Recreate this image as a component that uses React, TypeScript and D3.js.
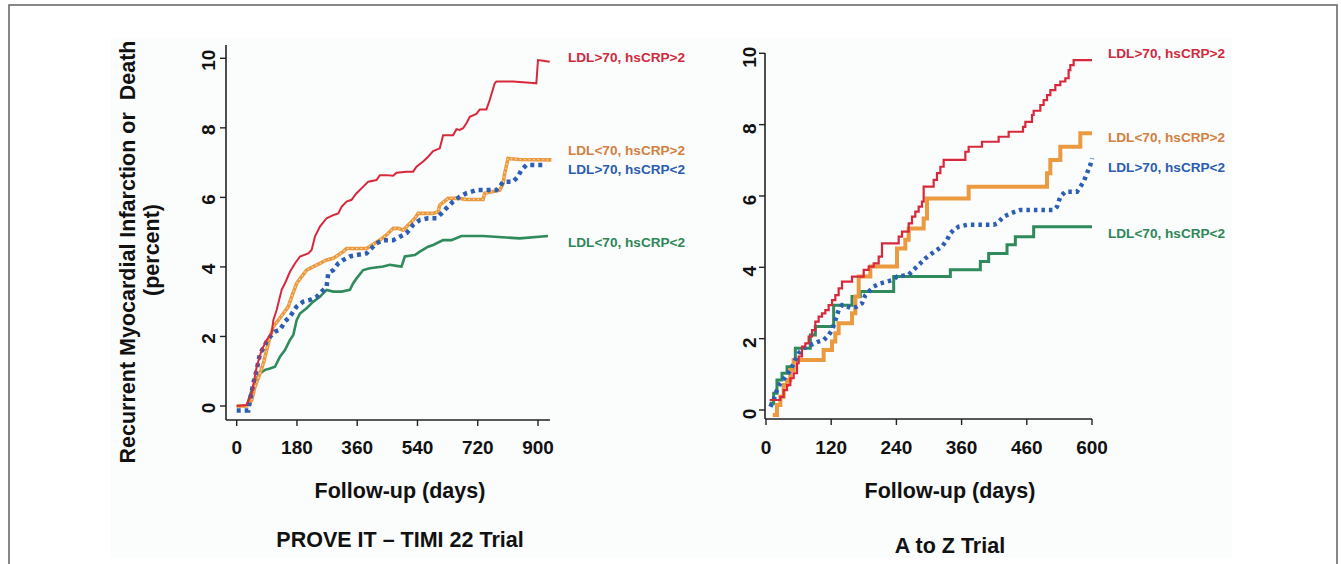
import React from 'react';
import * as d3 from 'd3';

// PROVE IT - TIMI 22 (days, percent)
const proveHighLdlHighCrp: [number, number][] = [
  [0, 0], [29.8, 0.03], [44.8, 0.36], [59.7, 1.13], [74.6, 1.61], [89.5, 1.9], [104.4, 2.09],
  [109.4, 2.47], [119.3, 2.76], [134.3, 3.34], [144.2, 3.53], [159.1, 3.86], [174, 4.1],
  [189, 4.3], [213.8, 4.39], [223.8, 4.49], [233.7, 4.87], [248.6, 5.16], [268.5, 5.4],
  [288.4, 5.49], [303.3, 5.54], [313.3, 5.73], [328.2, 5.88], [343.1, 5.93], [358, 6.12],
  [377.9, 6.31], [392.8, 6.45], [417.7, 6.5], [427.6, 6.64], [447.5, 6.64], [467.4, 6.62],
  [477.4, 6.71], [507.2, 6.74], [527.1, 6.74], [537, 6.88], [556.9, 7.03], [571.8, 7.17],
  [586.8, 7.33], [606.6, 7.41], [616.6, 7.79], [646.4, 7.79], [656.4, 7.96], [666.3, 7.94],
  [676.3, 7.99], [686.2, 8.13], [696.2, 8.32], [716, 8.4], [726, 8.53], [745.9, 8.53],
  [755.8, 8.8], [770.7, 9.28], [775.7, 9.33], [825.4, 9.33], [875.2, 9.3], [895, 9.28],
  [900, 9.95], [915, 9.93], [935, 9.9],
];
const proveLowLdlHighCrp: [number, number][] = [
  [0, 0], [29.8, 0], [44.8, 0.17], [54.7, 0.56], [69.6, 0.94], [79.6, 1.23], [89.5, 1.61],
  [99.5, 1.99], [109.4, 2.28], [124.3, 2.47], [139.2, 2.66], [154.1, 2.86], [164.1, 3.14],
  [179, 3.53], [193.9, 3.72], [208.8, 3.91], [228.7, 4.01], [248.6, 4.1], [268.5, 4.2],
  [288.4, 4.25], [303.3, 4.34], [318.2, 4.44], [328.2, 4.53], [387.9, 4.53], [412.7, 4.68],
  [427.6, 4.77], [447.5, 4.92], [467.4, 5.11], [482.3, 5.11], [497.3, 5.06], [517.1, 5.25],
  [532.1, 5.4], [542, 5.54], [586.8, 5.54], [601.7, 5.59], [606.6, 5.78], [631.5, 5.97],
  [666.3, 5.97], [686.2, 5.94], [735.9, 5.94], [740.9, 6.12], [785.7, 6.21], [795.6, 6.4],
  [800.6, 6.69], [810.5, 7.12], [845.3, 7.09], [939.8, 7.08],
];
const proveHighLdlLowCrp: [number, number][] = [
  [0, -0.13], [34.8, -0.13], [39.8, 0.17], [49.7, 0.65], [59.7, 1.04], [69.6, 1.51],
  [79.6, 1.66], [89.5, 1.85], [99.5, 1.99], [114.4, 2.14], [129.3, 2.19], [144.2, 2.43],
  [159.1, 2.57], [179, 2.86], [198.9, 3.0], [218.8, 3.05], [238.7, 3.14], [253.6, 3.29],
  [268.5, 3.43], [273.5, 3.82], [288.4, 3.91], [303.3, 4.1], [318.2, 4.2], [338.1, 4.3],
  [358, 4.34], [387.9, 4.39], [397.8, 4.49], [417.7, 4.68], [437.6, 4.77], [467.4, 4.77],
  [487.3, 4.87], [507.2, 4.97], [527.1, 5.21], [547, 5.35], [571.8, 5.4], [596.7, 5.4],
  [611.6, 5.54], [626.5, 5.69], [646.4, 5.88], [666.3, 6.02], [686.2, 6.12], [716, 6.21],
  [775.7, 6.21], [785.7, 6.31], [795.6, 6.45], [825.4, 6.45], [840.3, 6.6], [850.3, 6.79],
  [865.2, 6.93], [924.9, 6.93],
];
const proveLowLdlLowCrp: [number, number][] = [
  [0, 0], [29.8, 0], [44.8, 0.46], [59.7, 0.8], [69.6, 0.94], [84.5, 1.04], [99.5, 1.08],
  [114.4, 1.13], [129.3, 1.42], [144.2, 1.61], [159.1, 1.9], [169.1, 2.04], [179, 2.47],
  [189, 2.66], [208.8, 2.81], [228.7, 3.0], [248.6, 3.14], [268.5, 3.34], [288.4, 3.29],
  [313.3, 3.29], [338.1, 3.34], [348.1, 3.53], [358, 3.67], [377.9, 3.91], [397.8, 3.96],
  [437.6, 4.01], [457.5, 4.06], [477.4, 4.03], [492.3, 4.01], [502.2, 4.3], [532.1, 4.34],
  [547, 4.44], [571.8, 4.58], [586.8, 4.63], [616.6, 4.77], [641.5, 4.77], [671.3, 4.89],
  [735.9, 4.89], [845.3, 4.82], [929.9, 4.89],
];

// A to Z (days, percent)
const atozHighLdlHighCrp: [number, number][] = [
  [6.7, 0.28], [26.4, 0.37], [32.5, 0.56], [38.7, 0.7], [44.8, 0.89], [50.9, 1.03],
  [57.1, 1.31], [60.1, 1.5], [66.3, 1.78], [72.4, 1.87], [78.5, 2.06], [84.7, 2.24],
  [90.8, 2.48], [96.9, 2.62], [103.1, 2.71], [109.2, 2.8], [115.3, 2.94], [121.5, 3.08],
  [127.6, 3.22], [133.7, 3.41], [139.9, 3.6], [158.3, 3.74], [179.8, 3.93], [189, 4.02],
  [198.2, 4.11], [207.4, 4.3], [213.5, 4.67], [244.2, 4.86], [250.3, 5.0], [262.6, 5.23],
  [268.7, 5.42], [274.8, 5.56], [281, 5.7], [287.1, 5.84], [290.2, 6.26], [308.6, 6.45],
  [314.7, 6.64], [320.9, 6.82], [327, 7.01], [366.9, 7.24], [373, 7.38], [397.5, 7.52],
  [428.2, 7.66], [446.6, 7.8], [473, 7.94], [477.3, 8.08], [489.6, 8.27], [492.6, 8.39],
  [504.9, 8.55], [511, 8.69], [517.2, 8.83], [523.3, 8.97], [532.5, 9.11], [541.7, 9.21],
  [550.9, 9.3], [557, 9.53], [560.1, 9.67], [566.2, 9.81], [600, 9.81],
];
const atozLowLdlHighCrp: [number, number][] = [
  [12.3, -0.14], [20.2, 0.14], [26.4, 0.37], [32.5, 0.7], [38.7, 0.84], [44.8, 1.12],
  [50.9, 1.4], [106.1, 1.68], [121.5, 1.92], [127.6, 2.15], [133.7, 2.43], [158.3, 2.71],
  [164.4, 3.18], [170.6, 3.74], [192, 4.02], [241.1, 4.53], [256.4, 4.77], [262.6, 5.09],
  [290.2, 5.37], [296.3, 5.93], [373, 6.26], [517.2, 6.64], [523.3, 7.01], [541.7, 7.38],
  [578.5, 7.76], [600, 7.76],
];
const atozHighLdlLowCrp: [number, number][] = [
  [8, 0.09], [14.1, 0.28], [20.2, 0.56], [26.4, 0.75], [35.6, 0.92], [44.8, 1.12],
  [50.9, 1.31], [60.1, 1.59], [69.3, 1.73], [81.6, 1.82], [96.9, 1.92], [106.1, 1.96],
  [115.3, 2.1], [121.5, 2.24], [127.6, 2.52], [133.7, 2.8], [139.9, 2.94], [149.1, 2.9],
  [158.3, 2.85], [167.5, 2.9], [176.7, 2.99], [182.8, 3.22], [192, 3.36], [198.2, 3.46],
  [210.4, 3.55], [231.9, 3.64], [241.1, 3.74], [262.6, 3.79], [271.8, 3.93], [284, 4.11],
  [293.3, 4.25], [305.5, 4.39], [314.7, 4.49], [323.9, 4.58], [333.1, 4.77], [339.3, 4.95],
  [345.4, 5.05], [354.6, 5.14], [369.9, 5.19], [419, 5.19], [425.2, 5.23], [437.4, 5.42],
  [449.7, 5.51], [468.1, 5.61], [529.5, 5.61], [535.6, 5.7], [541.7, 5.98], [550.9, 6.12],
  [572.4, 6.12], [578.5, 6.26], [584.7, 6.4], [590.8, 6.64], [596.9, 6.87], [600, 7.06],
];
const atozLowLdlLowCrp: [number, number][] = [
  [6.7, 0.19], [14.1, 0.47], [20.2, 0.84], [29.4, 1.03], [38.7, 1.21], [50.9, 1.4],
  [54, 1.73], [81.6, 2.1], [90.8, 2.34], [124.5, 2.94], [158.3, 3.18], [173.6, 3.32],
  [235, 3.74], [339.3, 3.93], [394.5, 4.16], [409.8, 4.39], [443.6, 4.63], [458.9, 4.86],
  [492.6, 5.14], [600, 5.14],
];

const seriesNames = ['LDL>70, hsCRP>2', 'LDL<70, hsCRP>2', 'LDL>70, hsCRP<2', 'LDL<70, hsCRP<2'];
const yTicks = [0, 2, 4, 6, 8, 10];
const proveXTicks = [0, 180, 360, 540, 720, 900];
const atozXTicks = [0, 120, 240, 360, 480, 600];
const atozXTickLabels = ['0', '120', '240', '360', '460', '600'];

const FONT = '"Liberation Sans", Arial, Helvetica, sans-serif';
const RED = '#d8283c';
const ORANGE = '#eb9a40';
const BLUE = '#2c5fb4';
const GREEN = '#2f8a5c';
const labelColors = ['#cf2a3e', '#d4803f', '#2b5caf', '#2f8658'];

type Panel = {
  x: d3.ScaleLinear<number, number>;
  y: d3.ScaleLinear<number, number>;
  axisLeft: number;
  axisBottom: number;
  axisTop: number;
  axisRight: number;
  xTicks: number[];
  xTickLabels: string[];
  yLabelX: number;
  yLabelDy: number;
  series: { data: [number, number][]; stroke: string; width: number; dash?: string; step: boolean; texture?: boolean }[];
  labelX: number;
  labelY: number[];
  xTitle: string;
  xTitleX: number;
  trial: string;
  trialY: number;
};

const ChartPanel = ({ p }: { p: Panel }) => {
  const lineLin = d3.line<[number, number]>().x(d => p.x(d[0])).y(d => p.y(d[1]));
  const lineStep = d3.line<[number, number]>().x(d => p.x(d[0])).y(d => p.y(d[1])).curve(d3.curveStepAfter);
  return (
    <g>
      {p.series.map((s, i) => (
        <g key={i}>
          <path
            d={(s.step ? lineStep : lineLin)(s.data) || ''}
            fill="none"
            stroke={s.stroke}
            strokeWidth={s.width}
            strokeDasharray={s.dash}
            strokeLinejoin="miter"
          />
          {s.texture && (
            <path
              d={lineLin(s.data) || ''}
              fill="none"
              stroke="#f7dcb4"
              strokeWidth={1.2}
              strokeDasharray="1.5,3"
            />
          )}
        </g>
      ))}
      {/* axes */}
      <line x1={p.axisLeft} x2={p.axisLeft} y1={p.axisTop} y2={p.axisBottom} stroke="#222" strokeWidth={1.6} />
      <line x1={p.axisLeft} x2={p.axisRight} y1={p.axisBottom} y2={p.axisBottom} stroke="#222" strokeWidth={1.6} />
      {yTicks.map(t => (
        <g key={'y' + t}>
          <line x1={p.axisLeft - 6} x2={p.axisLeft} y1={p.y(t)} y2={p.y(t)} stroke="#222" strokeWidth={1.4} />
          <text
            transform={`translate(${p.yLabelX},${p.y(t) + p.yLabelDy}) rotate(-90)`}
            textAnchor="middle"
            dominantBaseline="central"
            fontSize={19}
            fontWeight="bold"
            fill="#111"
          >
            {t}
          </text>
        </g>
      ))}
      {p.xTicks.map((t, i) => (
        <g key={'x' + t}>
          <line x1={p.x(t)} x2={p.x(t)} y1={p.axisBottom} y2={p.axisBottom + 6} stroke="#222" strokeWidth={1.4} />
          <text x={p.x(t)} y={454} textAnchor="middle" fontSize={19} fontWeight="bold" fill="#111">
            {p.xTickLabels[i]}
          </text>
        </g>
      ))}
      {seriesNames.map((n, i) => (
        <text key={n} x={p.labelX} y={p.labelY[i]} dominantBaseline="central" fontSize={13.6} fontWeight="bold" fill={labelColors[i]}>
          {n}
        </text>
      ))}
      <text x={p.xTitleX} y={498} textAnchor="middle" fontSize={21.5} fontWeight="bold" fill="#111">
        {p.xTitle}
      </text>
      <text x={p.xTitleX} y={p.trialY} textAnchor="middle" fontSize={21.5} fontWeight="bold" fill="#111">
        {p.trial}
      </text>
    </g>
  );
};

export default function App() {
  const prove: Panel = {
    x: d3.scaleLinear().domain([0, 900]).range([236.7, 538]),
    y: d3.scaleLinear().domain([0, 10]).range([406, 58.3]),
    axisLeft: 226,
    axisBottom: 420,
    axisTop: 45,
    axisRight: 550,
    xTicks: proveXTicks,
    xTickLabels: proveXTicks.map(String),
    yLabelX: 208,
    yLabelDy: 2,
    series: [
      { data: proveLowLdlLowCrp, stroke: GREEN, width: 2.6, step: false },
      { data: proveLowLdlHighCrp, stroke: ORANGE, width: 3.6, step: false, texture: true },
      { data: proveHighLdlLowCrp, stroke: BLUE, width: 4.5, dash: '4,4', step: false },
      { data: proveHighLdlHighCrp, stroke: RED, width: 2, step: false },
    ],
    labelX: 568,
    labelY: [57, 150, 169, 242],
    xTitle: 'Follow-up (days)',
    xTitleX: 400,
    trial: 'PROVE IT \u2013 TIMI 22 Trial',
    trialY: 547,
  };
  const atoz: Panel = {
    x: d3.scaleLinear().domain([0, 600]).range([766, 1092]),
    y: d3.scaleLinear().domain([0, 10]).range([410, 53.3]),
    axisLeft: 765,
    axisBottom: 419,
    axisTop: 53,
    axisRight: 1092,
    xTicks: atozXTicks,
    xTickLabels: atozXTickLabels,
    yLabelX: 749,
    yLabelDy: 4,
    series: [
      { data: atozLowLdlLowCrp, stroke: GREEN, width: 3, step: true },
      { data: atozLowLdlHighCrp, stroke: ORANGE, width: 4, step: true },
      { data: atozHighLdlLowCrp, stroke: BLUE, width: 4.5, dash: '3.5,4', step: false },
      { data: atozHighLdlHighCrp, stroke: RED, width: 2.2, step: true },
    ],
    labelX: 1108,
    labelY: [53, 137, 167, 233],
    xTitle: 'Follow-up (days)',
    xTitleX: 950,
    trial: 'A to Z Trial',
    trialY: 553,
  };

  return (
    <svg
      width={1341}
      height={564}
      style={{ position: 'absolute', left: 0, top: 0, display: 'block', background: '#fff' }}
      fontFamily={FONT}
    >
      <rect x={0} y={0} width={1341} height={564} fill="#fff" />
      <rect x={111} y={38} width={1121} height={520} fill="#fbfcfc" />
      <rect x={9} y={5} width={1328} height={600} fill="none" stroke="#6a6a6a" strokeWidth={1.6} />
      <g fontWeight="bold" fill="#111" fontSize={21.5}>
        <text transform="translate(128,252) rotate(-90)" textAnchor="middle" dominantBaseline="central">
          Recurrent Myocardial Infarction or {'\u00a0'}Death
        </text>
        <text transform="translate(152,250) rotate(-90)" textAnchor="middle" dominantBaseline="central">
          (percent)
        </text>
      </g>
      <ChartPanel p={prove} />
      <ChartPanel p={atoz} />
    </svg>
  );
}
